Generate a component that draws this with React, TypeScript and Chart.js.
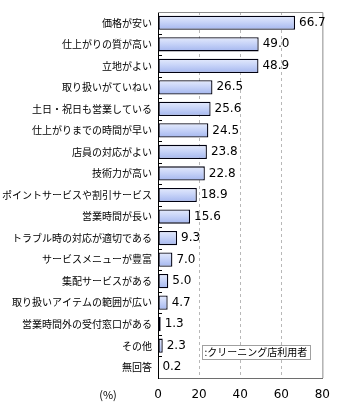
import React, { useEffect, useRef } from "react";
import { Chart, registerables } from "chart.js";

Chart.register(...registerables);

const categories = [
  "価格が安い",
  "仕上がりの質が高い",
  "立地がよい",
  "取り扱いがていねい",
  "土日・祝日も営業している",
  "仕上がりまでの時間が早い",
  "店員の対応がよい",
  "技術力が高い",
  "ポイントサービスや割引サービス",
  "営業時間が長い",
  "トラブル時の対応が適切である",
  "サービスメニューが豊富",
  "集配サービスがある",
  "取り扱いアイテムの範囲が広い",
  "営業時間外の受付窓口がある",
  "その他",
  "無回答",
];
const values = [66.7, 49.0, 48.9, 26.5, 25.6, 24.5, 23.8, 22.8, 18.9, 15.6, 9.3, 7.0, 5.0, 4.7, 1.3, 2.3, 0.2];
const seriesName = ":クリーニング店利用者";
const unitLabel = "(%)";
const xMax = 80;
const xStep = 20;

const JP_FONT = "'Noto Sans CJK JP', sans-serif";
const NUM_FONT = "'DejaVu Sans', sans-serif";

const extrasPlugin = {
  id: "extras",
  afterDraw(chart: any) {
    const { ctx, chartArea, scales } = chart;
    const xs = scales.x;
    const ys = scales.y;
    ctx.save();
    // frame top & right
    ctx.strokeStyle = "#8c8c8c";
    ctx.lineWidth = 1;
    ctx.setLineDash([]);
    ctx.beginPath();
    ctx.moveTo(chartArea.left, chartArea.top + 0.5);
    ctx.lineTo(chartArea.right + 0.5, chartArea.top + 0.5);
    ctx.lineTo(chartArea.right + 0.5, chartArea.bottom);
    ctx.stroke();
    // small inner tick marks at category boundaries
    ctx.strokeStyle = "#000";
    const n = categories.length;
    for (let i = 1; i < n; i++) {
      const yb = Math.round((ys.getPixelForValue(i - 1) + ys.getPixelForValue(i)) / 2) + 0.5;
      ctx.beginPath();
      ctx.moveTo(chartArea.left, yb);
      ctx.lineTo(chartArea.left + 4, yb);
      ctx.stroke();
    }
    // value labels
    const meta = chart.getDatasetMeta(0);
    ctx.fillStyle = "#000";
    ctx.font = `12px ${NUM_FONT}`;
    ctx.textBaseline = "middle";
    ctx.textAlign = "left";
    meta.data.forEach((bar: any, i: number) => {
      ctx.fillText(values[i].toFixed(1), bar.x + 4, bar.y);
    });
    // unit label
    ctx.font = `11px ${JP_FONT}`;
    ctx.textAlign = "center";
    ctx.fillText(unitLabel, chartArea.left - 50, xs.bottom - 15);
    // legend box
    const bx = xs.getPixelForValue(21.2);
    const bw = xs.getPixelForValue(73.8) - bx;
    const by = chartArea.bottom - 33;
    const bh = 14;
    ctx.fillStyle = "#fff";
    ctx.fillRect(bx, by, bw, bh);
    ctx.strokeStyle = "#a0a0a0";
    ctx.strokeRect(Math.round(bx) + 0.5, Math.round(by) + 0.5, Math.round(bw), bh);
    ctx.fillStyle = "#000";
    ctx.font = `10px ${JP_FONT}`;
    ctx.textAlign = "left";
    ctx.fillText(seriesName, bx + 3, by + bh / 2 + 0.5);
    ctx.restore();
  },
};

export default function App() {
  const ref = useRef<HTMLCanvasElement | null>(null);
  useEffect(() => {
    document.body.style.margin = "0";
    const canvas = ref.current;
    if (!canvas) return;
    const chart = new Chart(canvas, {
      type: "bar",
      data: {
        labels: categories,
        datasets: [
          {
            label: seriesName,
            data: values,
            backgroundColor: (c: any) => {
              const ch = c.chart;
              const ys = ch.scales?.y;
              if (!ys || c.dataIndex === undefined) return "#c4d0f6";
              const yc = ys.getPixelForValue(c.dataIndex);
              if (!isFinite(yc)) return "#c4d0f6";
              const g = ch.ctx.createLinearGradient(0, yc - 7, 0, yc + 7);
              g.addColorStop(0, "#e4eafc");
              g.addColorStop(0.45, "#c8d4f8");
              g.addColorStop(1, "#a4b6ee");
              return g;
            },
            borderColor: "#000010",
            borderWidth: 1.3,
            borderSkipped: false,
            barPercentage: 0.66,
            categoryPercentage: 1,
          },
        ],
      },
      options: {
        indexAxis: "y",
        animation: false,
        responsive: false,
        maintainAspectRatio: false,
        layout: { padding: { top: 7, right: 9, left: 0, bottom: 0 } },
        plugins: {
          legend: { display: false },
          tooltip: { enabled: false },
        },
        scales: {
          x: {
            min: 0,
            max: xMax,
            ticks: {
              stepSize: xStep,
              padding: 10,
              color: "#000",
              font: { family: NUM_FONT, size: 12 },
            },
            grid: {
              color: (c: any) =>
                c.tick && (c.tick.value === 0 || c.tick.value === xMax) ? "rgba(0,0,0,0)" : "#b8b8b8",
              tickLength: 0,
            },
            border: { display: true, color: "#6e6e6e", dash: [3, 3], width: 1 },
            afterFit: (s: any) => {
              s.height = 32;
            },
          },
          y: {
            ticks: {
              padding: 6,
              color: "#000",
              font: { family: JP_FONT, size: 10 },
              autoSkip: false,
            },
            grid: { display: false, drawTicks: false, tickLength: 0 },
            border: { display: true, color: "#000", width: 1 },
            afterFit: (s: any) => {
              s.width = 158;
            },
          },
        },
      },
      plugins: [extrasPlugin],
    } as any);
    return () => chart.destroy();
  }, []);
  return (
    <div style={{ width: 340, height: 410 }}>
      <canvas ref={ref} width={340} height={410} style={{ display: "block" }} />
    </div>
  );
}
